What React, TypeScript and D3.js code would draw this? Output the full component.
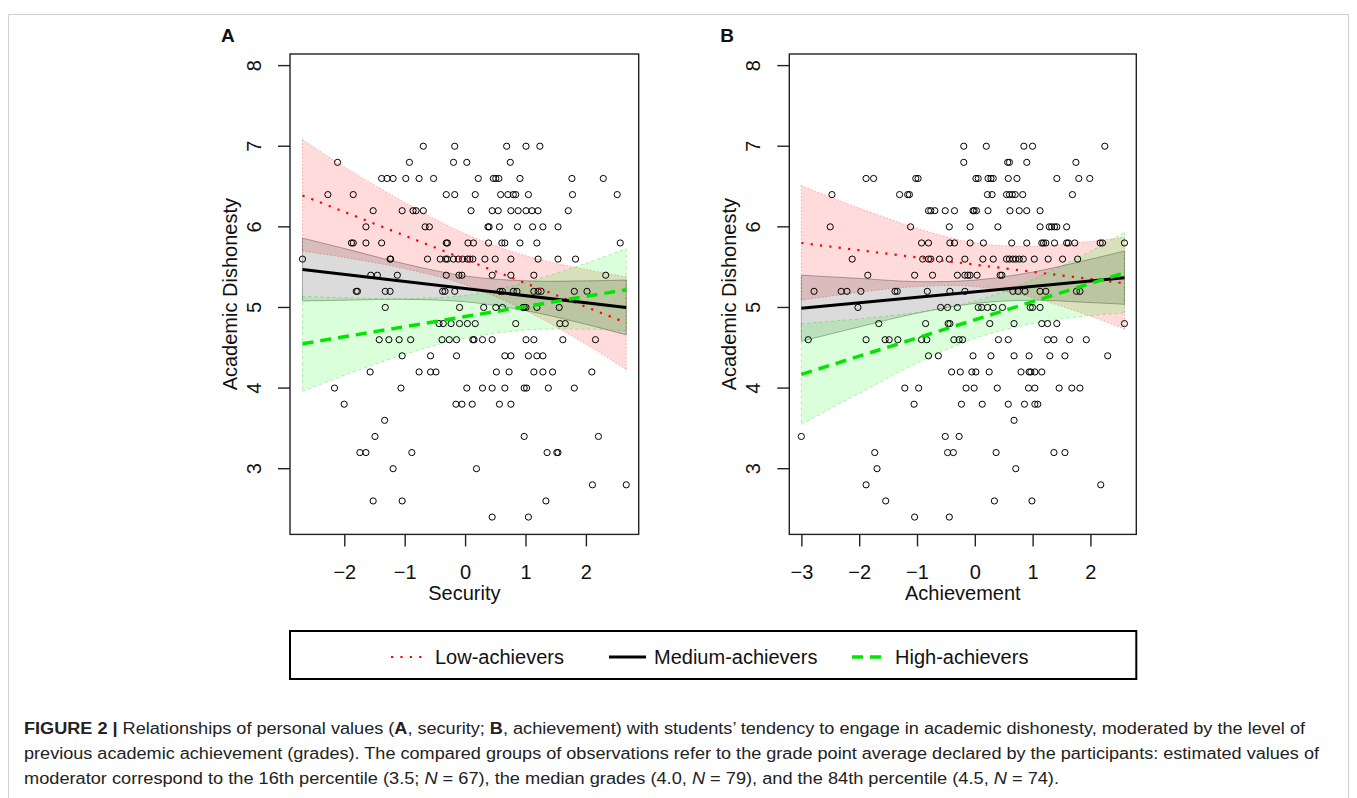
import React from 'react';
import * as d3 from 'd3';

// ---------- data ----------
const yTicks = [3, 4, 5, 6, 7, 8];
const securityTicks = [-2, -1, 0, 1, 2];
const achievementTicks = [-3, -2, -1, 0, 1, 2];

// rows: [academic dishonesty, security scores]
const securityRows: [number, number[]][] = [
  [7.0, [-0.70, -0.18, 0.68, 1.00, 1.23]],
  [6.8, [-2.12, -0.93, -0.20, 0.02, 0.74]],
  [6.6, [-1.39, -1.30, -1.20, -0.99, -0.77, -0.53, 0.21, 0.46, 0.50, 0.55, 0.90, 1.76, 2.28]],
  [6.4, [-2.28, -1.86, -0.32, -0.18, 0.16, 0.58, 0.70, 0.79, 0.83, 1.04, 1.77, 2.51]],
  [6.2, [-1.53, -1.05, -0.87, -0.82, -0.70, 0.09, 0.44, 0.54, 0.75, 0.87, 1.00, 1.10, 1.20, 1.70]],
  [6.0, [-1.65, -0.67, -0.60, 0.37, 0.39, 0.56, 0.86, 1.11, 1.28, 1.53]],
  [5.8, [-1.89, -1.86, -1.65, -1.39, -0.32, -0.30, 0.04, 0.13, 0.38, 0.60, 0.65, 0.90, 1.18, 2.56]],
  [5.6, [-2.70, -1.25, -1.24, -0.63, -0.42, -0.33, -0.30, -0.20, -0.12, -0.05, 0.03, 0.07, 0.12, 0.32, 0.49, 0.75, 1.20, 1.53, 1.82]],
  [5.4, [-1.57, -1.46, -1.13, -0.32, -0.11, -0.06, 0.44, 0.75, 1.13, 2.32]],
  [5.2, [-1.81, -1.79, -1.33, -1.25, -0.38, -0.34, -0.18, 0.57, 0.61, 0.79, 0.85, 1.13, 1.20, 1.25, 1.80, 2.01]],
  [5.0, [-1.33, -0.10, 0.30, 0.50, 0.61, 0.95, 0.97, 1.00, 1.18, 1.55]],
  [4.8, [-0.44, -0.37, -0.24, -0.10, 0.03, 0.16, 0.83, 1.56, 1.65]],
  [4.6, [-1.43, -1.27, -1.10, -0.91, -0.39, -0.27, -0.15, 0.12, 0.14, 0.28, 0.44, 1.00, 1.13, 1.61, 2.15]],
  [4.4, [-1.05, -0.58, -0.15, 0.65, 0.75, 1.04, 1.18, 1.28]],
  [4.2, [-1.58, -0.77, -0.58, -0.49, 0.51, 0.72, 1.13, 1.28, 1.44, 2.09]],
  [4.0, [-2.17, -1.07, 0.02, 0.28, 0.44, 0.65, 0.97, 1.01, 1.37, 1.80]],
  [3.8, [-2.01, -0.16, -0.06, 0.11, 0.56, 0.75]],
  [3.6, [-1.34]],
  [3.4, [-1.50, 0.97, 2.20]],
  [3.2, [-1.75, -1.65, -0.89, 1.35, 1.51, 1.53]],
  [3.0, [-1.20, 0.18]],
  [2.8, [2.10, 2.66]],
  [2.6, [-1.53, -1.05, 1.33]],
  [2.4, [0.44, 1.04]],
];

// rows: [academic dishonesty, achievement scores]
const achievementRows: [number, number[]][] = [
  [7.0, [-0.20, 0.19, 0.84, 0.99, 2.24]],
  [6.8, [-0.20, 0.56, 0.59, 0.89, 1.74]],
  [6.6, [-1.89, -1.76, -1.03, -0.99, 0.01, 0.05, 0.22, 0.27, 0.31, 0.57, 0.72, 1.41, 1.79, 1.98]],
  [6.4, [-2.48, -1.31, -1.17, -1.14, 0.21, 0.29, 0.54, 0.59, 0.64, 0.69, 0.82, 1.68]],
  [6.2, [-0.81, -0.77, -0.70, -0.52, -0.36, -0.04, -0.02, 0.02, 0.22, 0.60, 0.76, 0.89, 1.12]],
  [6.0, [-2.51, -1.12, -0.45, -0.09, 0.39, 1.12, 1.28, 1.32, 1.37, 1.41, 1.58]],
  [5.8, [-0.93, -0.81, -0.44, -0.36, -0.09, 0.14, 0.63, 0.89, 1.15, 1.18, 1.22, 1.37, 1.58, 1.61, 1.72, 2.16, 2.20, 2.58]],
  [5.6, [-2.13, -0.91, -0.81, -0.77, -0.62, -0.45, -0.18, 0.13, 0.31, 0.54, 0.59, 0.65, 0.70, 0.76, 0.83, 1.02, 1.26, 1.51, 1.77]],
  [5.4, [-1.86, -1.05, -0.74, -0.31, -0.18, -0.13, -0.09, 0.03, 0.43, 0.46]],
  [5.2, [-2.79, -2.32, -2.22, -1.98, -1.39, -1.35, -0.83, -0.44, -0.18, 0.65, 0.74, 0.86, 1.12, 1.22, 1.75, 1.81]],
  [5.0, [-2.03, -0.60, -0.48, -0.31, 0.05, 0.11, 0.21, 0.31, 0.47, 0.95, 0.99, 1.12]],
  [4.8, [-1.67, -0.86, -0.47, -0.44, 0.25, 0.67, 1.15, 1.25, 1.41, 2.58]],
  [4.6, [-2.89, -1.89, -1.56, -1.49, -1.34, -0.93, -0.84, -0.37, -0.28, -0.22, 0.40, 0.57, 1.25, 1.36, 1.63, 1.92]],
  [4.4, [-0.81, -0.64, -0.04, 0.27, 0.67, 0.93, 1.29, 1.55, 2.29]],
  [4.2, [-0.41, -0.26, -0.06, 0.01, 0.24, 0.79, 0.93, 0.96, 1.03, 1.15]],
  [4.0, [-1.22, -0.98, -0.16, -0.02, 0.38, 0.92, 1.03, 1.45, 1.67, 1.81]],
  [3.8, [-1.06, -0.24, 0.12, 0.57, 0.85, 1.03, 1.08]],
  [3.6, [0.67]],
  [3.4, [-3.01, -0.52, -0.28]],
  [3.2, [-1.74, -0.48, -0.38, 0.36, 1.36, 1.55]],
  [3.0, [-1.70, 0.70]],
  [2.8, [-1.89, 2.17]],
  [2.6, [-1.55, 0.33, 0.98]],
  [2.4, [-1.05, -0.45]],
];

// confidence bands
const securityBandX = [-2.7, -2, -1, 0, 1, 2, 2.66];
const securityLowUpper = [7.08, 6.74, 6.30, 5.91, 5.64, 5.47, 5.38];
const securityLowLower = [5.70, 5.62, 5.48, 5.28, 4.96, 4.54, 4.23];
const securityMedUpper = [5.86, 5.73, 5.54, 5.39, 5.33, 5.33, 5.34];
const securityMedLower = [5.08, 5.09, 5.10, 5.07, 4.96, 4.79, 4.66];
const securityHighUpper = [5.14, 5.12, 5.11, 5.15, 5.31, 5.55, 5.73];
const securityHighLower = [3.96, 4.16, 4.42, 4.62, 4.72, 4.73, 4.71];
const securityLineX = [-2.7, 2.66];
const securityLowLine = [6.39, 4.81];
const securityMedLine = [5.47, 5.0];
const securityHighLine = [4.55, 5.22];

const achievementBandX = [-3.01, -2, -1, 0, 1, 2, 2.58];
const achievementLowUpper = [6.51, 6.23, 5.98, 5.80, 5.76, 5.82, 5.87];
const achievementLowLower = [5.09, 5.19, 5.26, 5.26, 5.12, 4.89, 4.73];
const achievementMedUpper = [5.40, 5.36, 5.32, 5.34, 5.44, 5.60, 5.70];
const achievementMedLower = [4.58, 4.76, 4.93, 5.05, 5.09, 5.06, 5.04];
const achievementHighUpper = [4.80, 4.86, 4.94, 5.08, 5.35, 5.70, 5.93];
const achievementHighLower = [3.55, 3.94, 4.31, 4.62, 4.80, 4.90, 4.93];
const achievementLineX = [-3.01, 2.58];
const achievementLowLine = [5.80, 5.30];
const achievementMedLine = [4.99, 5.37];
const achievementHighLine = [4.17, 5.43];

const legendLabels = ['Low-achievers', 'Medium-achievers', 'High-achievers'];

// ---------- styles ----------
const FONT = '"Liberation Sans", Arial, Helvetica, sans-serif';
const RED = '#ff0000';
const GREEN = '#00e600';
const FS = 20;
const groupStyles = [
  { fill: 'rgba(255,0,0,0.14)', edge: 'rgba(255,0,0,0.3)', edgeDash: '1.5 2', line: RED, width: 2.2, dash: '2.2 7.2', cap: 'butt' },
  { fill: 'rgba(0,0,0,0.14)', edge: 'rgba(0,0,0,0.3)', edgeDash: '', line: '#000', width: 3, dash: '', cap: 'butt' },
  { fill: 'rgba(0,255,0,0.14)', edge: 'rgba(0,200,0,0.3)', edgeDash: '3 3', line: GREEN, width: 3.5, dash: '11 7', cap: 'butt' },
];

type PanelProps = {
  label: string;
  xTitle: string;
  left: number;
  right: number;
  xDomain: [number, number];
  ticks: number[];
  rows: [number, number[]][];
  bandX: number[];
  bands: [number[], number[]][];
  lineX: number[];
  lines: number[][];
};

const TOP = 54;
const BOTTOM = 534.4;
const yScale = d3.scaleLinear().domain([2.185, 8.144]).range([BOTTOM, TOP]);

function Panel(p: PanelProps) {
  const x = d3.scaleLinear().domain(p.xDomain).range([p.left, p.right]);
  const area = d3
    .area<number>()
    .x((_, i) => x(p.bandX[i]))
    .curve(d3.curveCatmullRom);
  const edge = d3
    .line<number>()
    .x((_, i) => x(p.bandX[i]))
    .y((d) => yScale(d))
    .curve(d3.curveCatmullRom);
  const tickLen = 12;
  return (
    <g fontFamily={FONT}>
      {/* bands */}
      {p.bands.map(([up, lo], gi) => {
        const st = groupStyles[gi];
        const a = area.y0((_, i) => yScale(lo[i])).y1((_, i) => yScale(up[i]));
        return (
          <g key={'b' + gi}>
            <path d={a(up) || ''} fill={st.fill} stroke="none" />
            <path d={edge(up) || ''} fill="none" stroke={st.edge} strokeWidth={1} strokeDasharray={st.edgeDash} />
            <path d={edge(lo) || ''} fill="none" stroke={st.edge} strokeWidth={1} strokeDasharray={st.edgeDash} />
            <line x1={x(p.bandX[0])} x2={x(p.bandX[0])} y1={yScale(up[0])} y2={yScale(lo[0])} stroke={st.edge} strokeWidth={1} strokeDasharray={st.edgeDash} />
            <line x1={x(p.bandX[p.bandX.length - 1])} x2={x(p.bandX[p.bandX.length - 1])} y1={yScale(up[up.length - 1])} y2={yScale(lo[lo.length - 1])} stroke={st.edge} strokeWidth={1} strokeDasharray={st.edgeDash} />
          </g>
        );
      })}
      {/* points */}
      {p.rows.map(([yv, xs]) =>
        xs.map((xv, i) => (
          <circle key={yv + '-' + i} cx={x(xv)} cy={yScale(yv)} r={3.1} fill="none" stroke="#000" strokeWidth={1} />
        ))
      )}
      {/* regression lines */}
      {p.lines.map((ys, gi) => {
        const st = groupStyles[gi];
        return (
          <line
            key={'l' + gi}
            x1={x(p.lineX[0])}
            y1={yScale(ys[0])}
            x2={x(p.lineX[1])}
            y2={yScale(ys[1])}
            stroke={st.line}
            strokeWidth={st.width}
            strokeDasharray={st.dash}
            strokeLinecap={st.cap as any}
          />
        );
      })}
      {/* box */}
      <rect x={p.left} y={TOP} width={p.right - p.left} height={BOTTOM - TOP} fill="none" stroke="#222" strokeWidth={1.4} />
      {/* y axis */}
      {yTicks.map((t) => (
        <g key={'yt' + t}>
          <line x1={p.left - tickLen} x2={p.left} y1={yScale(t)} y2={yScale(t)} stroke="#222" strokeWidth={1.4} />
          <text
            transform={`translate(${p.left - 29},${yScale(t)}) rotate(-90)`}
            textAnchor="middle"
            fontSize={FS}
            fill="#111"
          >
            {t}
          </text>
        </g>
      ))}
      <text
        transform={`translate(${p.left - 53},${(TOP + BOTTOM) / 2}) rotate(-90)`}
        textAnchor="middle"
        fontSize={FS}
        fill="#111"
      >
        Academic Dishonesty
      </text>
      {/* x axis */}
      {p.ticks.map((t) => (
        <g key={'xt' + t}>
          <line x1={x(t)} x2={x(t)} y1={BOTTOM} y2={BOTTOM + tickLen} stroke="#222" strokeWidth={1.4} />
          <text x={x(t)} y={579} textAnchor="middle" fontSize={FS} fill="#111">
            {t < 0 ? '\u2212' + Math.abs(t) : t}
          </text>
        </g>
      ))}
      <text x={(p.left + p.right) / 2} y={599.5} textAnchor="middle" fontSize={FS} fill="#111">
        {p.xTitle}
      </text>
      <text x={p.left - 69} y={42} fontSize={19} fontWeight="bold" fill="#111">
        {p.label}
      </text>
    </g>
  );
}

export default function App() {
  const legendItems = [
    { x1: 391, x2: 424, tx: 435 },
    { x1: 609, x2: 646, tx: 654 },
    { x1: 852, x2: 883, tx: 895 },
  ];
  return (
    <svg
      width={1357}
      height={798}
      style={{ position: 'absolute', left: 0, top: 0, background: '#fff' }}
    >
      <rect x={0} y={0} width={1357} height={798} fill="#fff" />
      {/* frame */}
      <path d="M8.5,798 L8.5,14.5 L1348.5,14.5 L1348.5,798" fill="none" stroke="#cfcfcf" strokeWidth={1} />
      <Panel
        label="A"
        xTitle="Security"
        left={290}
        right={638.7}
        xDomain={[-2.907, 2.866]}
        ticks={securityTicks}
        rows={securityRows}
        bandX={securityBandX}
        bands={[
          [securityLowUpper, securityLowLower],
          [securityMedUpper, securityMedLower],
          [securityHighUpper, securityHighLower],
        ]}
        lineX={securityLineX}
        lines={[securityLowLine, securityMedLine, securityHighLine]}
      />
      <Panel
        label="B"
        xTitle="Achievement"
        left={789.3}
        right={1136.3}
        xDomain={[-3.218, 2.785]}
        ticks={achievementTicks}
        rows={achievementRows}
        bandX={achievementBandX}
        bands={[
          [achievementLowUpper, achievementLowLower],
          [achievementMedUpper, achievementMedLower],
          [achievementHighUpper, achievementHighLower],
        ]}
        lineX={achievementLineX}
        lines={[achievementLowLine, achievementMedLine, achievementHighLine]}
      />
      {/* legend */}
      <g fontFamily={FONT}>
        <rect x={290} y={631} width={846.3} height={48} fill="none" stroke="#000" strokeWidth={2} />
        {legendItems.map((it, i) => {
          const st = groupStyles[i];
          return (
            <g key={'lg' + i}>
              <line x1={it.x1} x2={it.x2} y1={657} y2={657} stroke={st.line} strokeWidth={st.width} strokeDasharray={st.dash} />
              <text x={it.tx} y={664} fontSize={FS} fill="#111">
                {legendLabels[i]}
              </text>
            </g>
          );
        })}
      </g>
      {/* caption */}
      <g fontFamily={FONT} fontSize={16} fill="#222">
        <text x={24} y={734} textLength={1281} lengthAdjust="spacingAndGlyphs">
          <tspan fontWeight="bold">FIGURE 2 | </tspan>
          <tspan>Relationships of personal values (</tspan>
          <tspan fontWeight="bold">A</tspan>
          <tspan>, security; </tspan>
          <tspan fontWeight="bold">B</tspan>
          <tspan>, achievement) with students’ tendency to engage in academic dishonesty, moderated by the level of</tspan>
        </text>
        <text x={24} y={759} textLength={1295} lengthAdjust="spacingAndGlyphs">
          previous academic achievement (grades). The compared groups of observations refer to the grade point average declared by the participants: estimated values of
        </text>
        <text x={24} y={784} textLength={1035} lengthAdjust="spacingAndGlyphs">
          <tspan>moderator correspond to the 16th percentile (3.5; </tspan>
          <tspan fontStyle="italic">N</tspan>
          <tspan> = 67), the median grades (4.0, </tspan>
          <tspan fontStyle="italic">N</tspan>
          <tspan> = 79), and the 84th percentile (4.5, </tspan>
          <tspan fontStyle="italic">N</tspan>
          <tspan> = 74).</tspan>
        </text>
      </g>
    </svg>
  );
}
